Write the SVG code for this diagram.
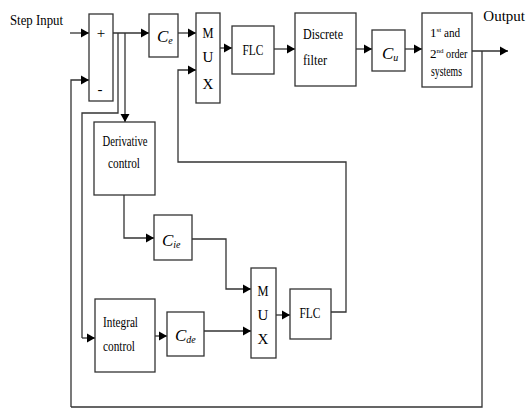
<svg xmlns="http://www.w3.org/2000/svg" width="527" height="410" viewBox="0 0 527 410">
<defs>
<marker id="ah" markerUnits="userSpaceOnUse" markerWidth="9" markerHeight="10" refX="8" refY="5" orient="auto">
<path d="M0,0.5 L8,5 L0,9.5 z" fill="#000"/>
</marker>
<style>
.b{fill:#fff;stroke:#333;stroke-width:1.3}
.l{fill:none;stroke:#333;stroke-width:1.3}
.a{marker-end:url(#ah)}
text{font-family:"Liberation Serif","Times New Roman",serif;font-size:15px;fill:#000}
.c{text-anchor:middle}
.i{font-style:italic;font-size:17px}
.s{font-size:10px}
.sm{font-size:13px}
</style>
</defs>
<rect width="527" height="410" fill="#fff"/>
<g id="connectors">
<path class="l a" d="M70,33 H89"/>
<path class="l a" d="M71,407 V80 H89"/>
<path class="l a" d="M113,33 H149"/>
<path class="l" d="M118,33 V113 H82 V338"/>
<path class="l a" d="M82,338 H95"/>
<path class="l a" d="M125,33 V122"/>
<path class="l a" d="M178,33 H196"/>
<path class="l a" d="M220,48 H232"/>
<path class="l a" d="M274,49 H295"/>
<path class="l a" d="M356,49 H372"/>
<path class="l a" d="M405,49 H422"/>
<path class="l a" d="M472,51 H508"/>
<path class="l" d="M482,51 V407 H71"/>
<path class="l a" d="M124,195 V238 H154"/>
<path class="l a" d="M192,239 H226 V289 H251"/>
<path class="l a" d="M155,336 H167"/>
<path class="l a" d="M204,331 H251"/>
<path class="l a" d="M276,315 H290"/>
<path class="l a" d="M331,312 H346 V162 H178 V70 H196"/>
</g>
<g id="step-input"><text x="10" y="25" font-size="16" textLength="53" lengthAdjust="spacingAndGlyphs">Step Input</text></g>
<g id="output-label"><text x="525" y="21" font-size="14" text-anchor="end">Output</text></g>
<g id="sum"><rect class="b" x="89" y="14" width="24" height="87"/><text x="101" y="38" class="c">+</text><text x="100" y="94" class="c">-</text></g>
<g id="ce"><rect class="b" x="149" y="14" width="29" height="43"/><text x="157" y="42" class="i">C<tspan class="s" dy="2">e</tspan></text></g>
<g id="mux1"><rect class="b" x="196" y="13" width="24" height="90"/><text x="208" y="38" class="c" textLength="11" lengthAdjust="spacingAndGlyphs">M</text><text x="208" y="62" class="c">U</text><text x="208" y="89" class="c">X</text></g>
<g id="flc1"><rect class="b" x="232" y="26" width="42" height="48"/><text x="253" y="55" class="c" textLength="21" lengthAdjust="spacingAndGlyphs">FLC</text></g>
<g id="filter"><rect class="b" x="295" y="13" width="61" height="73"/><text x="303" y="39" textLength="40" lengthAdjust="spacingAndGlyphs">Discrete</text><text x="303" y="65" textLength="24" lengthAdjust="spacingAndGlyphs">filter</text></g>
<g id="cu"><rect class="b" x="372" y="30" width="33" height="41"/><text x="382" y="59" class="i">C<tspan class="s" dy="2">u</tspan></text></g>
<g id="system"><rect class="b" x="422" y="13" width="50" height="74"/>
<text x="430" y="37" class="sm">1<tspan font-size="7" dy="-5">st</tspan><tspan dy="5" textLength="19" lengthAdjust="spacingAndGlyphs"> and</tspan></text>
<text x="430" y="58" class="sm">2<tspan font-size="7" dy="-5">nd</tspan><tspan dy="5" textLength="24" lengthAdjust="spacingAndGlyphs"> order</tspan></text>
<text x="431" y="76" font-size="12" textLength="31" lengthAdjust="spacingAndGlyphs">systems</text></g>
<g id="derivative"><rect class="b" x="94" y="122" width="61" height="73"/><text x="125" y="146" class="c" textLength="45" lengthAdjust="spacingAndGlyphs">Derivative</text><text x="124" y="168" class="c" textLength="32" lengthAdjust="spacingAndGlyphs">control</text></g>
<g id="cie"><rect class="b" x="154" y="215" width="38" height="45"/><text x="162" y="246" class="i">C<tspan class="s" dy="2">ie</tspan></text></g>
<g id="integral"><rect class="b" x="95" y="299" width="60" height="73"/><text x="103" y="327" textLength="35" lengthAdjust="spacingAndGlyphs">Integral</text><text x="103" y="351" textLength="32" lengthAdjust="spacingAndGlyphs">control</text></g>
<g id="cde"><rect class="b" x="167" y="312" width="37" height="44"/><text x="175" y="341" class="i">C<tspan class="s" dy="2">de</tspan></text></g>
<g id="mux2"><rect class="b" x="251" y="268" width="25" height="90"/><text x="263" y="296" class="c" textLength="11" lengthAdjust="spacingAndGlyphs">M</text><text x="263" y="320" class="c">U</text><text x="263" y="344" class="c">X</text></g>
<g id="flc2"><rect class="b" x="290" y="289" width="41" height="50"/><text x="310" y="318" class="c" textLength="21" lengthAdjust="spacingAndGlyphs">FLC</text></g>
</svg>
